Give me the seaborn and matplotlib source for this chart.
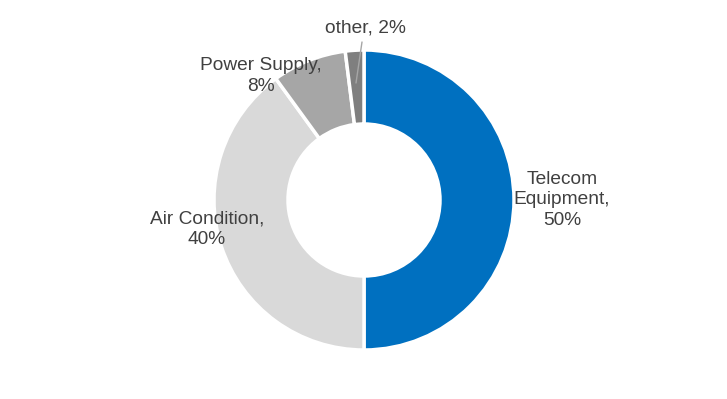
import matplotlib
matplotlib.use("Agg")
import matplotlib.pyplot as plt
import seaborn as sns

# Data
categories = ['Telecom Equipment', 'Air Condition', 'Power Supply', 'other']
shares = [50, 40, 8, 2]
labels = ['Telecom\nEquipment,\n50%', 'Air Condition,\n40%', 'Power Supply,\n8%', 'other, 2%']
colors = ['#0070C0', '#D9D9D9', '#A6A6A6', '#7F7F7F']

sns.set_theme(style='white')
plt.rcParams['font.family'] = ['Liberation Sans', 'DejaVu Sans']

fig = plt.figure(figsize=(7.27, 3.99), dpi=100)
ax = fig.add_axes([0, 0, 1, 1])

ax.pie(shares, colors=colors, startangle=90, counterclock=False, radius=150,
       wedgeprops=dict(width=74, edgecolor='white', linewidth=2.5))

# pie resets the limits, so set them afterwards (units = pixels from center)
ax.set_xlim(-364, 727 - 364)
ax.set_ylim(-(399 - 200), 200)
ax.set_aspect('equal')
ax.axis('off')

# label positions in pixel offsets from center
label_pos = [(198, 0), (-157, -29), (-103, 124), (1, 172)]
for lab, (x, y) in zip(labels, label_pos):
    ax.text(x, y, lab, ha='center', va='center', fontsize=13.8,
            color='#404040', linespacing=1.3)

# leader line for the small slice
ax.plot([-2, -8], [158, 117], color='#A6A6A6', linewidth=1)

fig.savefig('out.png', dpi=100)
